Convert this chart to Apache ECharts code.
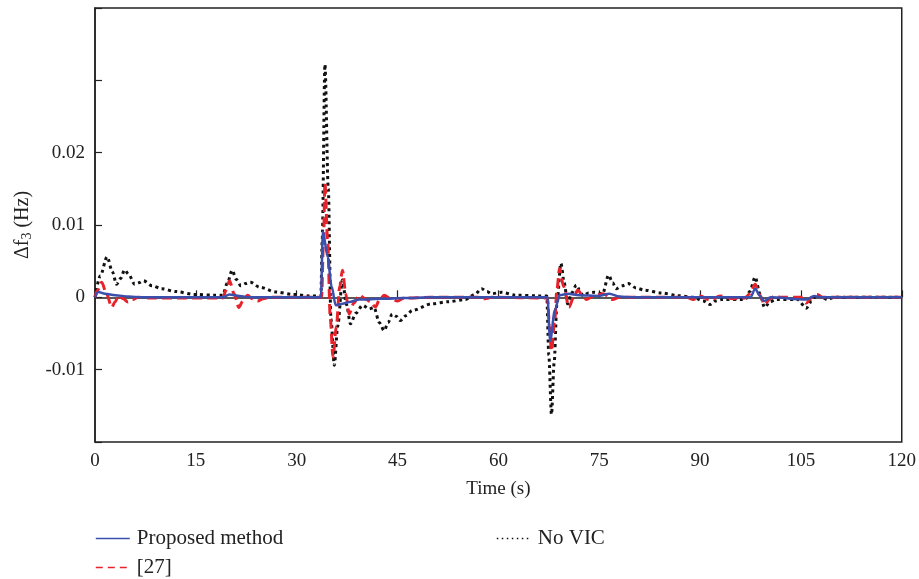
<!DOCTYPE html>
<html>
<head>
<meta charset="utf-8">
<script src="https://cdn.jsdelivr.net/npm/echarts@6/dist/echarts.min.js"></script>
<style>
  html, body { margin: 0; padding: 0; background: #fff; }
  #chart { width: 919px; height: 579px; }
</style>
</head>
<body>
<div id="chart"></div>
<script>
// time (s), delta f3 (Hz)
let noVicData = [
    [0, 0], [0.8, 0.003], [1.8, 0.0056], [2.6, 0.0035], [3.2, 0.0018], [3.8, 0.0026], [4.4, 0.0038],
    [5.0, 0.0032], [5.9, 0.0018], [6.5, 0.002], [7.2, 0.0023], [8.5, 0.0016], [9.9, 0.0012], [12, 0.0008],
    [14.8, 0.0004], [17.8, 0.0003], [19.0, 0.0003], [19.7, 0.002], [20.4, 0.00375], [21.0, 0.0025],
    [21.7, 0.0016], [22.4, 0.0019], [23.1, 0.0021], [24.5, 0.0014], [26.9, 0.00074], [29.5, 0.0004],
    [31.9, 0.0002], [33.6, 0.0002], [33.8, 0.008], [34.2, 0.0322], [34.7, 0.015], [35.1, -0.003],
    [35.6, -0.0094], [36.1, -0.004], [36.8, 0.0024], [37.4, -0.001], [38.0, -0.00365], [38.8, -0.0022],
    [39.8, -0.0011], [40.8, -0.0016], [41.5, -0.0014], [42.3, -0.0035], [43.0, -0.0046], [43.6, -0.0035],
    [44.2, -0.0023], [44.8, -0.0026], [45.4, -0.0032], [46.3, -0.0025], [47.2, -0.0018], [50.1, -0.0009],
    [52.6, -0.0006], [55.1, -0.0003], [56.5, 0.0004], [57.5, 0.0012], [58.3, 0.0008], [59, 0.0005],
    [60.5, 0.0007], [62.5, 0.0003], [65.9, 0.0002], [67.2, 0.0002], [67.5, -0.008], [67.9, -0.0162],
    [68.3, -0.009], [68.7, -0.001], [69.3, 0.0047], [69.8, 0.002], [70.3, -0.0009], [70.9, 0.0006],
    [71.6, 0.0017], [72.1, 0.001], [72.6, 0.0002], [73.4, 0.0006], [74.3, 0.0007], [75.5, 0.0005],
    [76.4, 0.00306], [77.0, 0.002], [77.5, 0.0012], [78.4, 0.0016], [79.3, 0.0019], [80.5, 0.0013],
    [81.7, 0.001], [84.2, 0.0006], [86.7, 0.00025], [89, 0], [90.5, -0.0005], [91.5, -0.001],
    [92.3, -0.0005], [93.2, -0.0003], [96.7, -0.0003], [97.4, 0.0008], [98.2, 0.0028], [98.9, 0.0005],
    [99.6, -0.0014], [100.4, -0.0006], [101.3, -0.0003], [104.5, -0.0003], [105.8, -0.0015],
    [106.6, -0.0005], [107.4, 0.0004], [108.2, 0], [108.9, -0.0003], [110, 0], [120, 0]
];
let ref27Data = [
    [0, 0], [0.4, 0.001], [1.0, 0.0021], [1.7, 0.0005], [2.5, -0.00135], [3.0, -0.0006], [3.5, 0.0003],
    [4.2, -0.0002], [4.9, -0.00065], [5.6, -0.0003], [6.4, 0], [8, -0.0001], [19, -0.0001], [19.5, 0.001],
    [20.0, 0.0023], [20.7, 0.0005], [21.4, -0.0014], [22.0, -0.0005], [22.7, 0.0003], [23.4, -0.0002],
    [24.2, -0.0005], [25, -0.0002], [26, 0], [33.7, 0], [34.0, 0.008], [34.2, 0.0158], [34.6, 0.008],
    [35.0, -0.003], [35.4, -0.0083], [35.9, -0.004], [36.4, 0.0015], [36.8, 0.00375], [37.3, 0.0005],
    [37.8, -0.0023], [38.5, -0.0008], [39.3, 0.0003], [40.2, -0.0002], [41.0, -0.0006], [41.7, -0.00135],
    [42.3, -0.0004], [43.0, 0.0003], [44.0, -0.0002], [45.0, -0.0005], [46, -0.0001], [50, 0], [57, 0],
    [58, -0.0002], [59, 0], [67.3, -0.0001], [67.6, -0.004], [67.9, -0.0074], [68.4, -0.003], [68.7, 0.001],
    [69.1, 0.004], [69.7, 0.0015], [70.5, -0.00135], [71.2, 0], [71.8, 0.001], [72.5, 0.0003],
    [73.1, -0.0003], [74, 0.0001], [75.6, 0.0005], [77, -0.0003], [78, 0], [88, 0], [89, -0.0003],
    [90, 0.0002], [91.5, -0.0004], [93, 0.0002], [95, -0.0002], [96.7, -0.0001], [97.4, 0.0005],
    [98.2, 0.0018], [98.9, 0.0003], [99.6, -0.001], [100.4, -0.0002], [101.1, 0.0002], [102, 0], [105, 0],
    [105.8, -0.0008], [106.6, 0], [107.4, 0.0004], [108.2, 0], [120, 0]
];
let proposedData = [
    [0, 0], [0.5, 0.00074], [1.5, 0.0005], [3, 0.0003], [5, 0.0001], [7, 0], [19, 0], [20, 0.0004],
    [21.5, 0.0002], [23, 0], [33.6, 0], [33.9, 0.0091], [34.6, 0.0056], [35.2, 0.0015], [35.8, -0.0011],
    [36.8, -0.0009], [37.8, -0.00065], [39.3, -0.0003], [42.7, -0.0002], [46, -0.0001], [50, 0], [67.3, 0],
    [67.7, -0.006], [68.4, -0.0018], [69.1, 0.0003], [70.4, 0.0005], [72, 0.0003], [75, 0.0002],
    [76.5, 0.0005], [78, 0.0001], [80, 0], [97.5, 0], [98.2, 0.0012], [98.9, 0.0002], [99.5, -0.0005],
    [100.5, 0], [105.8, -0.0003], [107, 0.0002], [108, 0], [120, 0]
];
let yLabels = ['-0.01', '0', '0.01', '0.02'];

let fontName = '"Liberation Serif", "Times New Roman", serif';
let blue = '#3b4fae';
let red = '#e8222b';
let black = '#111';
let chart = echarts.init(document.getElementById('chart'));

function oneLegend(name, left, top, color, type) {
    return {
        data: [name],
        left: left,
        top: top,
        itemWidth: 34,
        itemHeight: 12,
        itemGap: 0,
        itemStyle: { opacity: 0 },
        lineStyle: { width: 1.6, color: color, type: type },
        textStyle: { fontFamily: fontName, fontSize: 21, color: '#222', padding: [0, 0, 0, 2] }
    };
}

let options = {
    animation: false,
    backgroundColor: '#fff',
    grid: {
        left: 95,
        right: 14,
        top: 8,
        bottom: 137,
        show: true,
        borderColor: '#222',
        borderWidth: 1.5
    },
    legend: [
        oneLegend('Proposed method', 90, 523, blue, 'solid'),
        oneLegend('No VIC', 491, 523, black, [1.5, 3.5]),
        oneLegend('[27]', 90, 552, red, [7, 5])
    ],
    xAxis: {
        type: 'value',
        min: 0,
        max: 120,
        interval: 15,
        name: 'Time (s)',
        nameLocation: 'middle',
        nameGap: 38,
        nameTextStyle: { fontFamily: fontName, fontSize: 19, color: '#222' },
        axisLine: { lineStyle: { color: '#222', width: 1.5 } },
        axisTick: { inside: true, length: 7, lineStyle: { color: '#222', width: 1.2 } },
        axisLabel: { fontFamily: fontName, fontSize: 19, color: '#222', margin: 10 },
        splitLine: { show: false }
    },
    yAxis: {
        type: 'value',
        min: -0.02,
        max: 0.04,
        interval: 0.01,
        name: '{a|Δf}{s|3}{a| (Hz)}',
        nameLocation: 'middle',
        nameRotate: 90,
        nameGap: 58,
        nameTextStyle: {
            rich: {
                a: { fontFamily: fontName, fontSize: 20, color: '#222' },
                s: { fontFamily: fontName, fontSize: 14, color: '#222', padding: [9, 0, 0, 0] }
            }
        },
        axisLine: { lineStyle: { color: '#222', width: 1.5 } },
        axisTick: { inside: true, length: 7, lineStyle: { color: '#222', width: 1.2 } },
        axisLabel: {
            fontFamily: fontName,
            fontSize: 19,
            color: '#222',
            margin: 10,
            formatter: function (value) {
                let s = String(+value.toFixed(3));
                return yLabels.indexOf(s) >= 0 ? s : '';
            }
        },
        splitLine: { show: false }
    },
    series: [
        {
            name: 'No VIC',
            type: 'line',
            data: noVicData,
            showSymbol: false,
            symbol: 'none',
            smooth: 0.3,
            smoothMonotone: 'x',
            color: black,
            lineStyle: { color: black, width: 3, type: [3, 3.5] },
            z: 2
        },
        {
            name: '[27]',
            type: 'line',
            data: ref27Data,
            showSymbol: false,
            symbol: 'none',
            smooth: 0.3,
            smoothMonotone: 'x',
            color: red,
            lineStyle: { color: red, width: 3, type: [10, 5] },
            z: 3
        },
        {
            name: 'Proposed method',
            type: 'line',
            data: proposedData,
            showSymbol: false,
            symbol: 'none',
            smooth: 0.3,
            smoothMonotone: 'x',
            color: blue,
            lineStyle: { color: blue, width: 2.5 },
            z: 4
        }
    ]
};
chart.setOption(options);
</script>
</body>
</html>
